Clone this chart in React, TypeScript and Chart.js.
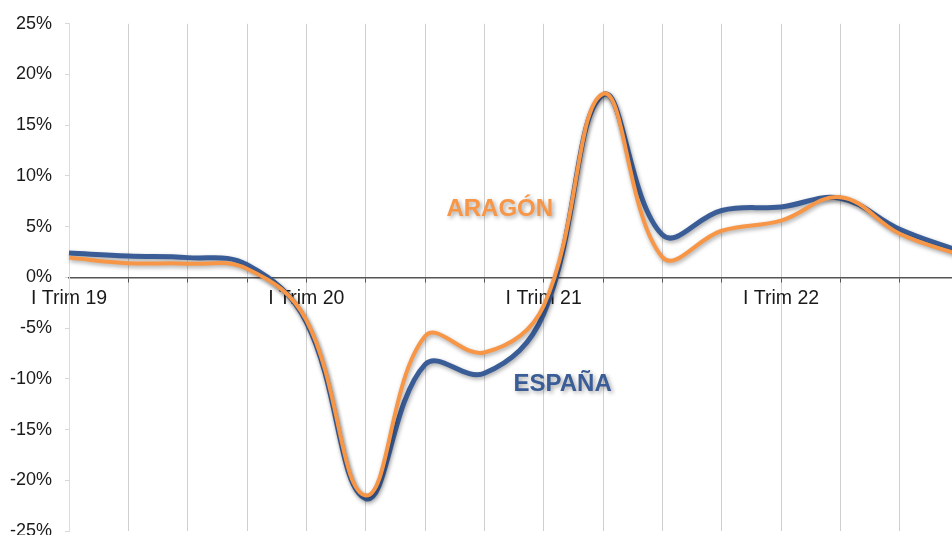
import React, { useEffect, useRef } from 'react';
import { Chart, registerables } from 'chart.js';

Chart.register(...registerables);

// Quarters from I Trim 19 to IV Trim 22
const categories = [
  'I Trim 19', 'II Trim 19', 'III Trim 19', 'IV Trim 19',
  'I Trim 20', 'II Trim 20', 'III Trim 20', 'IV Trim 20',
  'I Trim 21', 'II Trim 21', 'III Trim 21', 'IV Trim 21',
  'I Trim 22', 'II Trim 22', 'III Trim 22', 'IV Trim 22',
];

// Year-on-year variation (%)
const espana = [2.4, 2.1, 1.95, 1.25, -4.4, -21.8, -8.6, -9.45, -3.6, 18.0, 4.2, 6.6, 6.95, 7.8, 4.75, 2.6];
const aragon = [1.95, 1.4, 1.35, 0.85, -4.2, -21.5, -5.8, -7.4, -2.8, 18.1, 2.0, 4.6, 5.6, 7.9, 4.3, 2.25];

const yMin = -25;
const yMax = 25;
const yStep = 5;

const seriesLabels = ['ESPAÑA', 'ARAGÓN'];

const BLUE = '#3A5D97';
const ORANGE = '#F79646';

const shadowPlugin = {
  id: 'lineShadow',
  beforeDatasetDraw(chart: any) {
    const ctx = chart.ctx;
    ctx.save();
    ctx.shadowColor = 'rgba(0,0,0,0.35)';
    ctx.shadowBlur = 4;
    ctx.shadowOffsetX = 1;
    ctx.shadowOffsetY = 2;
  },
  afterDatasetDraw(chart: any) {
    chart.ctx.restore();
  },
};

const seriesNamePlugin = {
  id: 'seriesNames',
  afterDatasetsDraw(chart: any) {
    const ctx = chart.ctx;
    const xs = chart.scales.x;
    const ys = chart.scales.y;
    const items = [
      { text: seriesLabels[1], color: ORANGE, x: 7.26, y: 6.7 },
      { text: seriesLabels[0], color: BLUE, x: 8.32, y: -10.5 },
    ];
    ctx.save();
    ctx.font = 'bold 24px "Liberation Sans", Arial, sans-serif';
    ctx.textAlign = 'center';
    ctx.textBaseline = 'middle';
    ctx.shadowColor = 'rgba(0,0,0,0.35)';
    ctx.shadowBlur = 4;
    ctx.shadowOffsetX = 2;
    ctx.shadowOffsetY = 2;
    for (const it of items) {
      ctx.fillStyle = it.color;
      ctx.fillText(it.text, xs.getPixelForValue(it.x), ys.getPixelForValue(it.y));
    }
    ctx.restore();
  },
};

export default function App() {
  const canvasRef = useRef<HTMLCanvasElement | null>(null);

  useEffect(() => {
    const canvas = canvasRef.current;
    if (!canvas) return;
    const chart = new Chart(canvas, {
      type: 'line',
      data: {
        labels: categories,
        datasets: [
          {
            label: seriesLabels[0],
            data: espana,
            borderColor: BLUE,
            borderWidth: 5,
            pointRadius: 0,
            tension: 0.4,
            fill: false,
            order: 2,
          },
          {
            label: seriesLabels[1],
            data: aragon,
            borderColor: ORANGE,
            borderWidth: 4,
            pointRadius: 0,
            tension: 0.4,
            fill: false,
            order: 1,
          },
        ],
      },
      options: {
        animation: false,
        responsive: false,
        devicePixelRatio: 1,
        layout: { padding: { top: 23, bottom: 29, left: 0, right: 21 } },
        plugins: {
          legend: { display: false },
          tooltip: { enabled: false },
        },
        scales: {
          x: {
            type: 'category',
            position: { y: 0 } as any,
            offset: false,
            grid: {
              color: '#cfcfcf',
              lineWidth: 1,
              drawTicks: true,
              tickLength: 4,
              tickColor: '#555',
            },
            border: { display: true, color: '#555', width: 1.5 },
            ticks: {
              autoSkip: false,
              maxRotation: 0,
              minRotation: 0,
              padding: 6,
              color: '#1a1a1a',
              font: { family: '"Liberation Sans", Arial, sans-serif', size: 19.5 },
              callback: (_v: any, i: number) => (categories[i].startsWith('I Trim') ? categories[i] : ''),
            },
          },
          y: {
            min: yMin,
            max: yMax,
            grid: {
              drawOnChartArea: false,
              drawTicks: true,
              tickLength: 4,
              tickColor: '#d8d8d8',
            },
            border: { display: true, color: '#dcdcdc', width: 1 },
            ticks: {
              stepSize: yStep,
              padding: 13,
              color: '#1a1a1a',
              font: { family: '"Liberation Sans", Arial, sans-serif', size: 18 },
              callback: (v: any) => `${v}%`,
            },
            afterFit: (scale: any) => {
              scale.width = 69;
            },
          },
        },
      },
      plugins: [shadowPlugin, seriesNamePlugin],
    });
    return () => chart.destroy();
  }, []);

  return (
    <div style={{ position: 'absolute', left: 0, top: 0, width: 952, height: 535, overflow: 'hidden', background: '#fff' }}>
      <canvas ref={canvasRef} width={980} height={560} style={{ display: 'block' }} />
    </div>
  );
}
